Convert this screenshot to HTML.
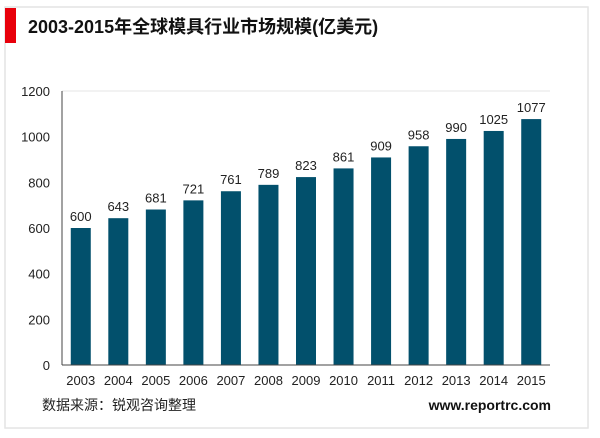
<!DOCTYPE html>
<html><head><meta charset="utf-8"><style>
body{margin:0;width:600px;height:433px;background:#fff;overflow:hidden;font-family:"Liberation Sans","Noto Sans CJK SC",sans-serif}
</style></head><body>
<svg width="600" height="433">
<rect x="5" y="7" width="583" height="421" fill="#fff" stroke="#e4e4e4" stroke-width="1.5"/>
<rect x="5" y="8" width="11" height="35" fill="#e8000b"/>
<text x="28" y="33" font-size="18" font-weight="bold" fill="#111">2003-2015年全球模具行业市场规模(亿美元)</text>
<line x1="62" y1="91" x2="550" y2="91" stroke="#e6e6e6"/>
<g id="yaxis"></g>
<g id="bars"></g>
<line x1="62" y1="91" x2="62" y2="365" stroke="#444"/>
<line x1="62" y1="365" x2="550" y2="365" stroke="#444"/>
<text x="42" y="410" font-size="14" fill="#222">数据来源：锐观咨询整理</text>
<text x="551" y="410" font-size="14" font-weight="bold" fill="#111" text-anchor="end">www.reportrc.com</text>
</svg>
<script>
const categories=["2003","2004","2005","2006","2007","2008","2009","2010","2011","2012","2013","2014","2015"];
const values=[600,643,681,721,761,789,823,861,909,958,990,1025,1077];
const yTicks=[0,200,400,600,800,1000,1200];
const NS="http://www.w3.org/2000/svg";
const x0=62,x1=550,y0=365,yTop=91,yMax=1200;
const band=(x1-x0)/categories.length,bw=20;
const ys=v=>y0-(v/yMax)*(y0-yTop);
const xc=i=>x0+band*(i+0.5);
function mk(t,a){const e=document.createElementNS(NS,t);for(const k in a)e.setAttribute(k,a[k]);return e;}
const ya=document.getElementById('yaxis');
yTicks.forEach(t=>{const e=mk('text',{x:50,y:ys(t)+5,'font-size':13,fill:'#222','text-anchor':'end'});


e.textContent=t;ya.appendChild(e);});
const g=document.getElementById('bars');
categories.forEach((c,i)=>{
const r=mk('rect',{x:xc(i)-bw/2,y:ys(values[i]),width:bw,height:y0-ys(values[i]),fill:'#02506c'});


g.appendChild(r);
const l=mk('text',{x:xc(i),y:ys(values[i])-7,'font-size':13,fill:'#222','text-anchor':'middle'});


l.textContent=values[i];g.appendChild(l);
const xl=mk('text',{x:xc(i),y:385,'font-size':13,fill:'#222','text-anchor':'middle'});


xl.textContent=c;g.appendChild(xl);
});
</script>
</body></html>
